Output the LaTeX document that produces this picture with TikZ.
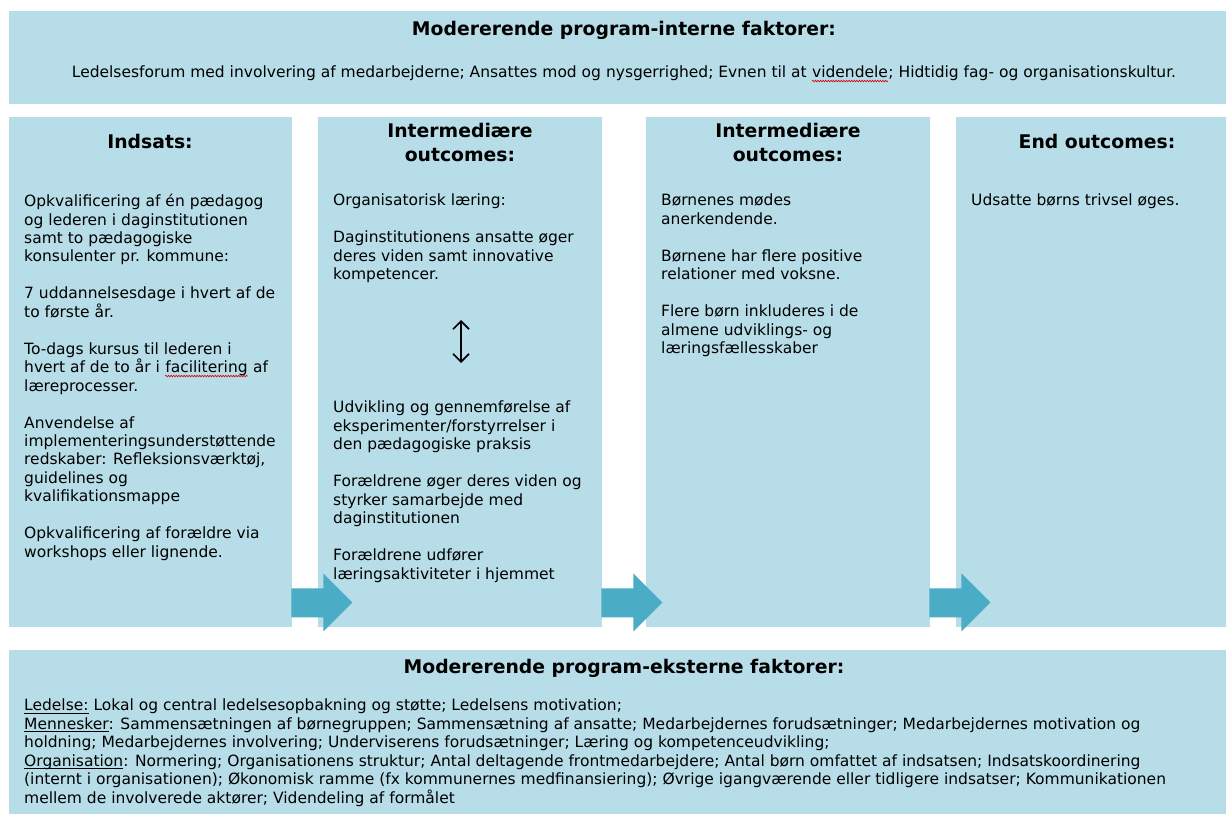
\documentclass[tikz,border=0pt]{standalone}
\usepackage{fontspec}
\setmainfont{DejaVu Sans}
\usetikzlibrary{calc,arrows.meta,decorations.pathmorphing}

\definecolor{panelblue}{HTML}{B7DDE8}
\definecolor{arrowblue}{HTML}{4BACC6}

% red spell-check wave under a word
\newcommand\spellwave[1]{\tikz[baseline=(w.base)]{\node[inner sep=0pt] (w) {#1};
    \draw [red!85!black, line width=0.6pt, decorate, decoration={snake, amplitude=0.8pt, segment length=2.6pt}]
        ([yshift=-3.4pt]w.base west) -- ([yshift=-3.4pt]w.base east);}}
% plain underline close to the baseline
\newcommand\understreg[1]{\setbox0\hbox{#1}\rlap{\rule[-2.6pt]{\wd0}{0.9pt}}\box0\relax}

\begin{document}
\begin{tikzpicture}[
        x=1pt, y=-1pt,
        panel/.style={
            fill=panelblue,
            inner sep=0pt,
            anchor=north west,
        },
        title/.style={
            font=\fontsize{18.8}{24}\selectfont\bfseries,
            align=center,
            inner sep=0pt,
        },
        body/.style={
            font=\fontsize{15.5}{18.45}\selectfont,
            align=left,
            anchor=north west,
            inner sep=0pt,
        },
        blockarrow/.style={
            fill=arrowblue,
        },
    ]

    \useasboundingbox (0,0) rectangle (1226,814);

    % panels
    \node (intern) at (9,11) [panel, minimum width=1217pt, minimum height=93pt] {};
    \node (indsats) at (9,117) [panel, minimum width=283pt, minimum height=510pt] {};
    \node (mellemA) at (318,117) [panel, minimum width=284pt, minimum height=510pt] {};
    \node (mellemB) at (646,117) [panel, minimum width=284pt, minimum height=510pt] {};
    \node (slut) at (956,117) [panel, minimum width=270pt, minimum height=510pt] {};
    \node (ekstern) at (9,650) [panel, minimum width=1217pt, minimum height=164pt] {};

    % block arrows between the columns
    \foreach \src in {indsats, mellemA, mellemB}
        \fill [blockarrow] ($(\src.south east)+(-1,-39)$) -- ++(32,0) -- ++(0,-15)
            -- ++(29,29) -- ++(-29,29) -- ++(0,-14) -- ++(-32,0) -- cycle;

    % top
    \node (internTitel) at (624,30) [title] {Modererende program-interne faktorer:};
    \node (internTekst) at (624,74) [body, anchor=center] {Ledelsesforum med involvering af medarbejderne; Ansattes mod og nysgerrighed; Evnen til at \spellwave{videndele}; Hidtidig fag- og organisationskultur.};

    % columns
    \node (indsatsTitel) at (150,141) [title] {Indsats:};
    \node (mellemATitel) at (460,142) [title] {Intermediære\\ outcomes:};
    \node (mellemBTitel) at (788,142) [title] {Intermediære\\ outcomes:};
    \node (slutTitel) at (1097,141) [title] {End outcomes:};

    \node (indsatsTekst) at (24,194) [body] {Opkvalificering af én pædagog\\ og lederen i daginstitutionen\\ samt to pædagogiske\\ konsulenter pr. kommune:\\[18.45pt]
        7 uddannelsesdage i hvert af de\\ to første år.\\[18.45pt]
        To-dags kursus til lederen i\\ hvert af de to år i \spellwave{facilitering} af\\ læreprocesser.\\[18.45pt]
        Anvendelse af\\ implementeringsunderstøttende\\ redskaber: Refleksionsværktøj,\\ guidelines og\\ kvalifikationsmappe\\[18.45pt]
        Opkvalificering af forældre via\\ workshops eller lignende.};

    \node (laeringTekst) at (333,194) [body] {Organisatorisk læring:\\[18.45pt]
        Daginstitutionens ansatte øger\\ deres viden samt innovative\\ kompetencer.};
    \coordinate (pilTop) at (461,320);
    \coordinate (pilBund) at (461,363);
    \draw [{Straight Barb[length=8pt,width=16pt]}-{Straight Barb[length=8pt,width=16pt]}, line width=1.7pt] (pilTop) -- (pilBund);
    \node (praksisTekst) at (333,401) [body] {Udvikling og gennemførelse af\\ eksperimenter/forstyrrelser i\\ den pædagogiske praksis\\[18.45pt]
        Forældrene øger deres viden og\\ styrker samarbejde med\\ daginstitutionen\\[18.45pt]
        Forældrene udfører\\ læringsaktiviteter i hjemmet};

    \node (boernTekst) at (661,194) [body] {Børnenes mødes\\ anerkendende.\\[18.45pt]
        Børnene har flere positive\\ relationer med voksne.\\[18.45pt]
        Flere børn inkluderes i de\\ almene udviklings- og\\ læringsfællesskaber};

    \node (slutTekst) at (971,194) [body] {Udsatte børns trivsel øges.};

    % bottom
    \node (eksternTitel) at (624,668) [title] {Modererende program-eksterne faktorer:};
    \node (eksternTekst) at (24,699) [body] {\understreg{Ledelse:} Lokal og central ledelsesopbakning og støtte; Ledelsens motivation;\\
        \understreg{Mennesker}: Sammensætningen af børnegruppen; Sammensætning af ansatte; Medarbejdernes forudsætninger; Medarbejdernes motivation og\\
        holdning; Medarbejdernes involvering; Underviserens forudsætninger; Læring og kompetenceudvikling;\\
        \understreg{Organisation}: Normering; Organisationens struktur; Antal deltagende frontmedarbejdere; Antal børn omfattet af indsatsen; Indsatskoordinering\\
        (internt i organisationen); Økonomisk ramme (fx kommunernes medfinansiering); Øvrige igangværende eller tidligere indsatser; Kommunikationen\\
        mellem de involverede aktører; Videndeling af formålet};

\end{tikzpicture}
\end{document}
